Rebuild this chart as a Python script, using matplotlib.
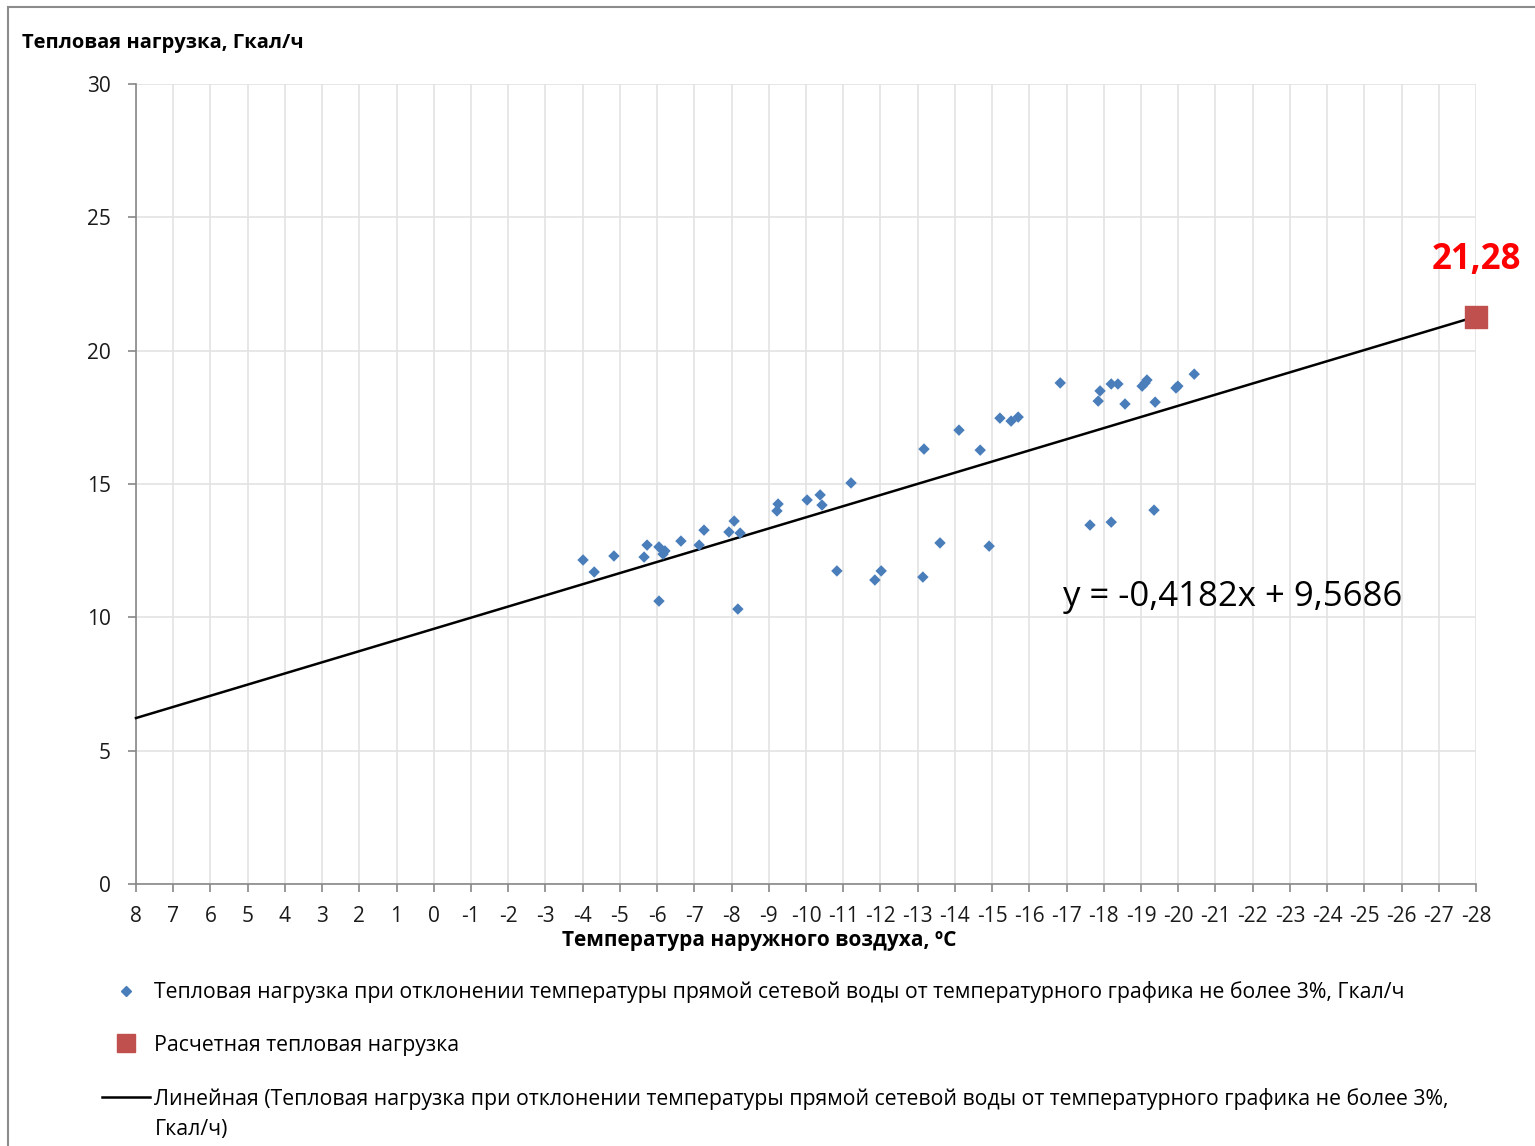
import matplotlib
matplotlib.use("Agg")
import matplotlib.pyplot as plt
from matplotlib.lines import Line2D
from matplotlib.patches import Rectangle
import numpy as np

plt.rcParams['font.family'] = ['Open Sans', 'DejaVu Sans']
plt.rcParams['axes.unicode_minus'] = False

# Measured heat load vs outdoor temperature
temps = [-4.01, -4.31, -4.84, -5.65, -5.73, -6.05, -6.16, -6.21, -6.05, -6.64,
         -7.13, -7.26, -7.93, -8.07, -8.23, -8.17, -9.22, -9.25, -10.03, -10.38,
         -10.43, -11.21, -10.83, -11.85, -12.02, -13.14, -13.17, -13.60, -14.11, -14.68,
         -14.92, -15.21, -15.51, -15.70, -16.83, -17.63, -17.85, -17.90, -18.20, -18.20,
         -18.38, -18.57, -19.03, -19.11, -19.16, -19.35, -19.38, -19.94, -19.99, -20.43]
loads = [12.15, 11.70, 12.30, 12.26, 12.71, 12.64, 12.37, 12.49, 10.61, 12.86,
         12.71, 13.27, 13.20, 13.61, 13.16, 10.31, 13.99, 14.25, 14.40, 14.59,
         14.21, 15.04, 11.74, 11.40, 11.74, 11.51, 16.31, 12.79, 17.02, 16.27,
         12.67, 17.47, 17.36, 17.51, 18.79, 13.46, 18.11, 18.49, 13.57, 18.75,
         18.75, 18.00, 18.67, 18.79, 18.90, 14.02, 18.07, 18.60, 18.67, 19.12]

# Design point
design_temp = -28
design_load = 21.28

# Linear trend coefficients
slope = -0.4182
intercept = 9.5686
trend_range = [8, -28]

x_ticks = list(range(8, -29, -1))
y_ticks = [0, 5, 10, 15, 20, 25, 30]

label_points = ("Тепловая нагрузка при отклонении температуры прямой сетевой воды "
                "от температурного графика не более 3%, Гкал/ч")
label_design = "Расчетная тепловая нагрузка"
label_trend_1 = ("Линейная (Тепловая нагрузка при отклонении температуры прямой сетевой воды "
                 "от температурного графика не более 3%,")
label_trend_2 = "Гкал/ч)"

W, H = 1535, 1146
fig = plt.figure(figsize=(W / 100, H / 100), dpi=100)
ax = fig.add_axes([136 / W, 1 - 884 / H, (1476 - 136) / W, (884 - 84) / H])

# Chart outer frame
fig.patches.append(Rectangle((8 / W, -0.01), (W - 6) / W, 1 - 7 / H + 0.01,
                             transform=fig.transFigure, fill=False,
                             edgecolor='#8c8c8c', linewidth=1.5))

grid_color = '#e3e3e3'
ax.set_xlim(8, -28)
ax.set_ylim(0, 30)
ax.set_xticks(x_ticks)
ax.set_xticklabels([str(t) for t in x_ticks])
ax.set_yticks(y_ticks)
ax.grid(True, color=grid_color, linewidth=1.2)
ax.set_axisbelow(True)
for s in ['top', 'right']:
    ax.spines[s].set_visible(False)
for s in ['left', 'bottom']:
    ax.spines[s].set_color('#878787')
    ax.spines[s].set_linewidth(1.2)
ax.tick_params(axis='both', colors='#878787', labelcolor='#1a1a1a',
               labelsize=15, length=6, width=1.2)
ax.tick_params(axis='x', pad=10)
ax.tick_params(axis='y', pad=12)

# Trend line
tx = np.array(trend_range, dtype=float)
ax.plot(tx, slope * tx + intercept, color='black', linewidth=1.8, zorder=3,
        clip_on=False)

# Measurements
ax.scatter(temps, loads, marker='D', s=34, color='#4a7ebb', zorder=4,
           edgecolors='none')

# Design point
ax.scatter([design_temp], [design_load], marker='s', s=240, color='#c0504d',
           zorder=5, clip_on=False)
ax.annotate(f"{design_load:.2f}".replace('.', ','), (design_temp, design_load),
            xytext=(0, 28), textcoords='offset points', ha='center', va='bottom',
            color='#ff0000', fontsize=25, fontweight='bold')

# Trend equation
ax.text(-16.9, 10.75, f"y = {slope:.4f}x + {intercept:.4f}".replace('.', ','),
        fontsize=25, color='black', ha='left', va='center')

fig.text(22 / W, 1 - 43 / H, "Тепловая нагрузка, Гкал/ч", fontsize=14.5,
         fontweight='bold', ha='left', va='center')
ax.set_xlabel("Температура наружного воздуха, ºC", fontsize=15, fontweight='bold')
ax.xaxis.set_label_coords(0.465, -0.071)
ax.xaxis.label.set_va('center')

handles = [
    Line2D([], [], marker='D', linestyle='none', color='#4a7ebb', markersize=5),
    Line2D([], [], marker='s', linestyle='none', color='#c0504d', markersize=13),
    Line2D([], [], color='black', linewidth=1.8),
]
leg = fig.legend(handles, [label_points, label_design, label_trend_1],
                 loc='upper left', bbox_to_anchor=(102 / W, 1 - 981 / H),
                 frameon=False, fontsize=15.3, handlelength=2.25, handletextpad=0.22,
                 labelspacing=1.5, borderaxespad=0, borderpad=0)

# Continuation line of the trend label, aligned with the legend text column
fig.canvas.draw()
tb = leg.get_texts()[2].get_window_extent()
fig.text(tb.x0 / W, (tb.y0 - 30) / H, label_trend_2, fontsize=15.3,
         ha='left', va='bottom')

fig.savefig("out.png", dpi=100)
